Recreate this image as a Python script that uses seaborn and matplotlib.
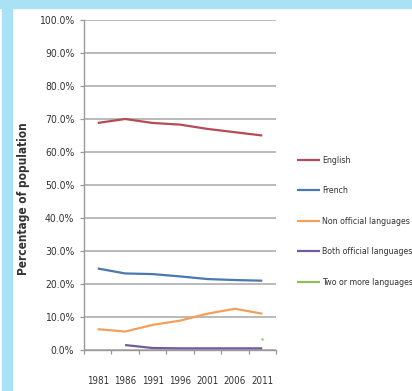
import matplotlib
matplotlib.use("Agg")
import matplotlib.pyplot as plt
from matplotlib.patches import Rectangle
from matplotlib.ticker import FuncFormatter, FixedLocator
import seaborn as sns
import pandas as pd
import numpy as np

# Census years and language shares (% of population)
years = ["1981", "1986", "1991", "1996", "2001", "2006", "2011"]
english = [68.8, 70.0, 68.8, 68.3, 67.0, 66.0, 65.0]
french = [24.7, 23.2, 23.0, 22.3, 21.5, 21.2, 21.0]
non_official = [6.3, 5.6, 7.6, 8.9, 11.0, 12.5, 11.0]
both_official = [np.nan, 1.5, 0.6, 0.5, 0.5, 0.5, 0.5]
two_or_more = [np.nan, np.nan, np.nan, np.nan, np.nan, np.nan, 3.3]

series_names = ["English", "French", "Non official languages",
                "Both official languages", "Two or more languages"]
series_values = [english, french, non_official, both_official, two_or_more]
series_colors = ["#b84a55", "#4a78b0", "#f2a05a", "#6f5c99", "#8fbf5a"]

rows = []
for name, vals in zip(series_names, series_values):
    for i, v in enumerate(vals):
        if not np.isnan(v):
            rows.append({"pos": i, "year": years[i], "language": name, "share": v})
df = pd.DataFrame(rows)

sns.set_style("white")
plt.rcParams["font.family"] = ["DejaVu Sans"]
plt.rcParams["font.stretch"] = "condensed"

W, H = 412, 391
fig = plt.figure(figsize=(W / 100, H / 100), dpi=100)
fig.patch.set_facecolor("white")

# plot area in pixel terms
x0, x1, ytop, ybot = 84, 276, 20, 350
ax = fig.add_axes([x0 / W, 1 - ybot / H, (x1 - x0) / W, (ybot - ytop) / H])

palette = dict(zip(series_names, series_colors))
sns.lineplot(data=df, x="pos", y="share", hue="language", hue_order=series_names,
             palette=palette, linewidth=1.6, ax=ax, legend=True,
             solid_joinstyle="round", solid_capstyle="butt")

# lone single-year series shown as a small dot
single = df[df["language"] == "Two or more languages"]
sns.scatterplot(data=single, x="pos", y="share", color=series_colors[4],
                s=3, linewidth=0, ax=ax, legend=False)

ax.set_xlim(-0.5, len(years) - 0.5)
ax.set_ylim(0, 100)
ax.set_yticks(np.arange(0, 101, 10))
ax.yaxis.set_major_formatter(FuncFormatter(lambda v, p: f"{v:.1f}%"))
ax.yaxis.grid(True, color="#b4b4b4", linewidth=1.3)
ax.set_axisbelow(True)

ax.set_xticks(range(len(years)))
ax.set_xticklabels(years)
ax.xaxis.set_minor_locator(FixedLocator(np.arange(-0.5, len(years), 1.0)))
ax.tick_params(axis="x", which="major", length=0, pad=19, labelsize=7,
               labelcolor="#333333")
ax.tick_params(axis="x", which="minor", length=3, width=0.9, color="#999999",
               direction="out", bottom=True)
ax.tick_params(axis="y", which="major", length=3, width=0.9, color="#999999",
               direction="out", left=True, pad=4, labelsize=7.5,
               labelcolor="#333333")

for side in ["top", "right"]:
    ax.spines[side].set_visible(False)
for side in ["left", "bottom"]:
    ax.spines[side].set_color("#999999")
    ax.spines[side].set_linewidth(1.0)

ax.set_xlabel("")
ax.set_ylabel("Percentage of population", fontsize=8.5, fontweight="bold",
              color="#333333")
ax.yaxis.set_label_coords((30 - x0) / (x1 - x0), 0.46)

leg = ax.legend(loc="upper left", bbox_to_anchor=(297 / W, 1 - 156 / H),
                bbox_transform=fig.transFigure, frameon=False, fontsize=6.3,
                handlelength=2.6, handletextpad=0.3, labelspacing=2.45,
                borderpad=0, borderaxespad=0)
for line in leg.get_lines():
    line.set_linewidth(1.6)
for t in leg.get_texts():
    t.set_color("#333333")

# light blue frame along the top and left edges
frame_color = "#a8e2f4"
fig.add_artist(Rectangle((0, 1 - 8 / H), 1, 8 / H, transform=fig.transFigure,
                         color=frame_color, zorder=10))
fig.add_artist(Rectangle((2 / W, 0), 10 / W, 1, transform=fig.transFigure,
                         color=frame_color, zorder=10))

fig.savefig("out.png", dpi=100)
